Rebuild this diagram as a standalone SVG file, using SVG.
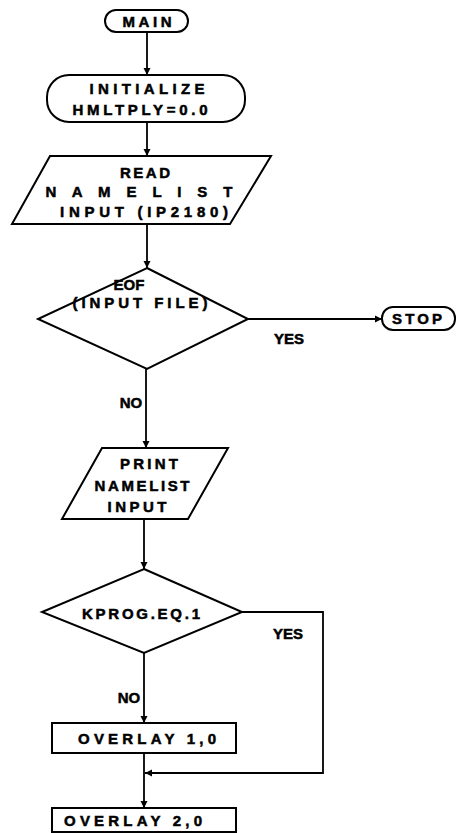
<svg xmlns="http://www.w3.org/2000/svg" width="457" height="833" viewBox="0 0 457 833">
<defs>
<marker id="ah" viewBox="0 0 10 10" refX="10" refY="5" markerWidth="7" markerHeight="8" orient="auto" markerUnits="userSpaceOnUse">
<path d="M0,0 L10,5 L0,10 z" fill="#000"/>
</marker>
<style>
.s{fill:#fff;stroke:#000;stroke-width:2}
.c{fill:none;stroke:#000;stroke-width:1.8}
text{font-family:"Liberation Sans",Arial,sans-serif;font-weight:bold;font-size:15px;fill:#000;stroke:#000;stroke-width:0.5;text-anchor:middle;dominant-baseline:central}
</style>
</defs>
<rect width="457" height="833" fill="#fff"/>
<g id="connectors">
<line class="c" x1="147" y1="32" x2="147" y2="75" marker-end="url(#ah)"/>
<line class="c" x1="147" y1="122" x2="147" y2="156" marker-end="url(#ah)"/>
<line class="c" x1="147" y1="224" x2="147" y2="268" marker-end="url(#ah)"/>
<line class="c" x1="248" y1="319" x2="382" y2="319" marker-end="url(#ah)"/>
<line class="c" x1="146" y1="368" x2="146" y2="448" marker-end="url(#ah)"/>
<line class="c" x1="144" y1="519" x2="144" y2="569" marker-end="url(#ah)"/>
<polyline class="c" points="242,612 323,612 323,773 145,773" marker-end="url(#ah)"/>
<line class="c" x1="144" y1="653" x2="144" y2="723" marker-end="url(#ah)"/>
<line class="c" x1="144" y1="753" x2="144" y2="808" marker-end="url(#ah)"/>
<text x="289" y="338">YES</text>
<text x="131" y="402">NO</text>
<text x="288" y="633">YES</text>
<text x="129" y="697">NO</text>
</g>
<g id="main">
<rect class="s" x="105" y="10" width="83" height="22" rx="11"/>
<text x="147" y="21" textLength="49" lengthAdjust="spacing">MAIN</text>
</g>
<g id="initialize">
<rect class="s" x="47" y="75" width="198" height="47" rx="22"/>
<text x="147" y="88" textLength="115" lengthAdjust="spacing">INITIALIZE</text>
<text x="140" y="109" textLength="135" lengthAdjust="spacing">HMLTPLY=0.0</text>
</g>
<g id="read">
<polygon class="s" points="50,156 271,156 230,224 12,224"/>
<text x="145" y="172" textLength="50" lengthAdjust="spacing">READ</text>
<text x="139" y="191" textLength="187" lengthAdjust="spacing">N A M E L I S T</text>
<text x="144" y="211" textLength="168" lengthAdjust="spacing">INPUT (IP2180)</text>
</g>
<g id="eof">
<polygon class="s" points="147,268 248,319 147,369 38,319"/>
<text x="129" y="284">EOF</text>
<text x="140" y="302" textLength="135" lengthAdjust="spacing">(INPUT FILE)</text>
</g>
<g id="stop">
<rect class="s" x="382" y="307" width="73" height="23" rx="11"/>
<text x="417" y="318" textLength="50" lengthAdjust="spacing">STOP</text>
</g>
<g id="print">
<polygon class="s" points="102,448 228,448 188,519 62,519"/>
<text x="149" y="463" textLength="58" lengthAdjust="spacing">PRINT</text>
<text x="142" y="485" textLength="95" lengthAdjust="spacing">NAMELIST</text>
<text x="137" y="506" textLength="59" lengthAdjust="spacing">INPUT</text>
</g>
<g id="kprog">
<polygon class="s" points="144,569 242,612 144,653 42,612"/>
<text x="141" y="613" textLength="118" lengthAdjust="spacing">KPROG.EQ.1</text>
</g>
<g id="overlay1">
<rect class="s" x="52" y="723" width="184" height="30"/>
<text x="147" y="738" textLength="138" lengthAdjust="spacing">OVERLAY 1,0</text>
</g>
<g id="overlay2">
<rect class="s" x="52" y="808" width="184" height="24"/>
<text x="133" y="820" textLength="138" lengthAdjust="spacing">OVERLAY 2,0</text>
</g>
</svg>
